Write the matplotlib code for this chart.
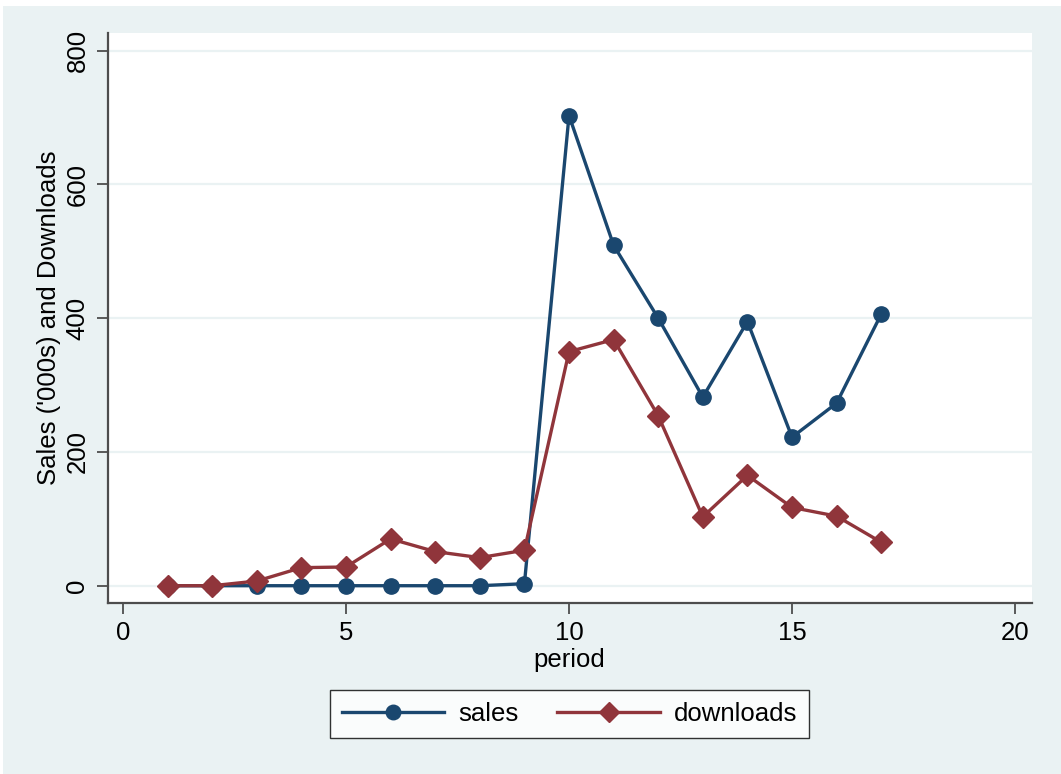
import matplotlib
matplotlib.use("Agg")
import matplotlib.pyplot as plt
from matplotlib.patches import Rectangle

# data
period = [1, 2, 3, 4, 5, 6, 7, 8, 9, 10, 11, 12, 13, 14, 15, 16, 17]
sales = [0, 0, 0, 0, 0, 0, 0, 0, 3, 703, 509, 400, 282, 395, 222, 273, 406]
downloads = [0, 0, 7, 27, 28, 70, 51, 42, 53, 350, 368, 254, 103, 165, 117, 104, 65]

x_ticks = [0, 5, 10, 15, 20]
y_ticks = [0, 200, 400, 600, 800]

bg = "#EAF2F3"
blue = "#1A476F"
red = "#90353B"
axis_col = "#4D4D4D"

plt.rcParams['font.family'] = ['Liberation Sans', 'DejaVu Sans']

W, H = 1061, 774
fig = plt.figure(figsize=(W / 100, H / 100), dpi=100)
fig.patch.set_facecolor("white")
# graph region (light blue) with thin white border top/left
fig.patches.append(Rectangle((3 / W, 0), 1 - 3 / W, 1 - 6 / H, transform=fig.transFigure,
                             facecolor=bg, edgecolor="none", zorder=-10))

left, right = 107.5 / W, 1031.7 / W
bottom, top = (H - 602.7) / H, (H - 33) / H
ax = fig.add_axes([left, bottom, right - left, top - bottom])
ax.set_facecolor("white")

ax.set_xlim(-0.348, 20.374)
ax.set_ylim(-25.4, 826.4)

for y in y_ticks:
    ax.axhline(y, color=bg, lw=1.6, zorder=0)

ax.plot(period, sales, color=blue, lw=2.4, marker="o", ms=11, label="sales", zorder=3)
ax.plot(period, downloads, color=red, lw=2.4, marker="D", ms=11, label="downloads", zorder=4)

for s in ["top", "right"]:
    ax.spines[s].set_visible(False)
for s in ["left", "bottom"]:
    ax.spines[s].set_color(axis_col)
    ax.spines[s].set_linewidth(1.6)

ax.set_xticks(x_ticks)
ax.set_yticks(y_ticks)
ax.set_yticklabels([str(v) for v in y_ticks], rotation=90, va="center")
ax.tick_params(axis="both", length=8, width=1.3, color=axis_col, labelsize=18.5, pad=5)

ax.set_xlabel("period", fontsize=18.5, labelpad=2)
ax.set_ylabel("Sales ('000s) and Downloads", fontsize=18.5, labelpad=3)

leg = ax.legend(loc="center", ncol=2, fontsize=18.5, frameon=True, fancybox=False,
                edgecolor="black", handlelength=4.0, columnspacing=1.5, handletextpad=0.55,
                borderpad=0.45, markerscale=0.95)
leg.set_bbox_to_anchor((569.6 / W, (H - 714) / H), transform=fig.transFigure)
leg.get_frame().set_linewidth(1.0)

fig.savefig("out.png", dpi=100, facecolor=fig.get_facecolor())
